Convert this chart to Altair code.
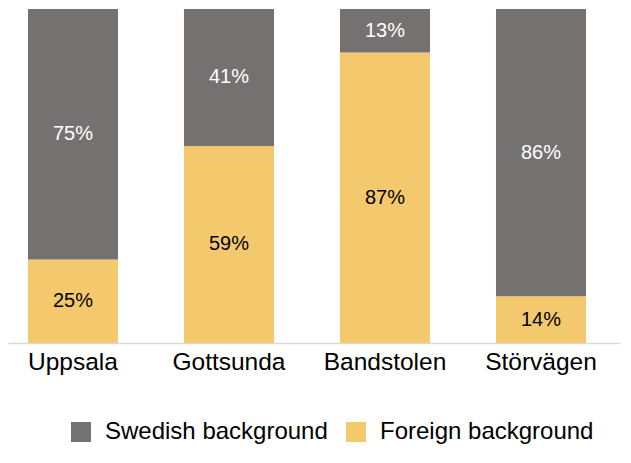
import altair as alt
import pandas as pd

sites = ["Uppsala", "Gottsunda", "Bandstolen", "Störvägen"]
swedish = [75, 41, 13, 86]
foreign = [25, 59, 87, 14]
groups = ["Swedish background", "Foreign background"]
colors = ["#767171", "#F4C96E"]

rows = []
for s, sw, fo in zip(sites, swedish, foreign):
    rows.append({"site": s, "group": "Foreign background", "value": fo, "ord": 0})
    rows.append({"site": s, "group": "Swedish background", "value": sw, "ord": 1})
df = pd.DataFrame(rows)

base = alt.Chart(df).transform_stack(
    stack="value", groupby=["site"], as_=["y0", "y1"], sort=[alt.SortField("ord")]
).transform_calculate(
    mid="(datum.y0 + datum.y1) / 2", lab="datum.value + '%'"
)

xenc = alt.X(
    "site:N", sort=sites, title=None,
    scale=alt.Scale(paddingInner=0.423, paddingOuter=0.173, align=0.37),
    axis=alt.Axis(labelAngle=0, labelFontSize=24.5, labelColor="#000000", labelFont="Liberation Sans",
                  ticks=False, domainColor="#D9D9D9", domainWidth=1.5, labelPadding=7),
)
yscale = alt.Scale(domain=[0, 100], nice=False, zero=True)

bars = base.mark_bar().encode(
    x=xenc,
    y=alt.Y("y0:Q", scale=yscale, axis=None),
    y2="y1:Q",
    color=alt.Color(
        "group:N",
        scale=alt.Scale(domain=groups, range=colors),
        legend=alt.Legend(
            title=None, orient="none", direction="horizontal", legendX=61, legendY=411,
            symbolType="square", symbolSize=400, symbolStrokeWidth=0, labelFontSize=24,
            labelFont="Liberation Sans", labelColor="#000000", labelOffset=12, labelLimit=0,
            columnPadding=16, padding=0, symbolOpacity=1,
        ),
    ),
)

text = base.mark_text(fontSize=20, font="Liberation Sans").encode(
    x=alt.X("site:N", sort=sites),
    y=alt.Y("mid:Q", scale=yscale),
    text="lab:N",
    color=alt.Color("group:N", scale=alt.Scale(domain=groups, range=["#FFFFFF", "#000000"]), legend=None),
)

chart = alt.layer(bars, text).resolve_scale(color="independent").properties(
    width=612, height=334, padding={"left": 0, "top": 1, "right": 3, "bottom": 5}
).configure_view(stroke=None)

chart.save("out.html", embed_options={"renderer": "svg", "actions": False})
